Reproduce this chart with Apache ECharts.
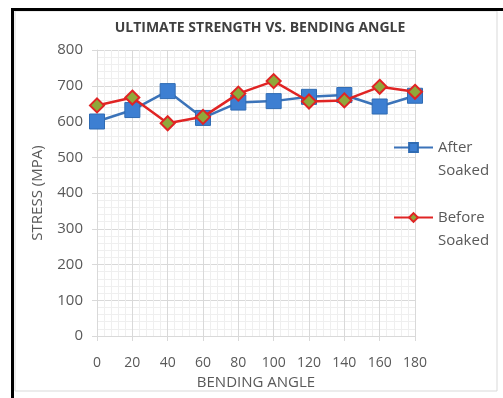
<!DOCTYPE html>
<html>
<head>
<meta charset="utf-8">
<style>
  html, body { margin: 0; padding: 0; background: #ffffff; }
  #chart { width: 503px; height: 398px; }
</style>
<script src="https://cdn.jsdelivr.net/npm/echarts@6/dist/echarts.min.js"></script>
</head>
<body>
<div id="chart"></div>
<script>
// Bending angle (degrees) for each test
const angles = [0, 20, 40, 60, 80, 100, 120, 140, 160, 180];
// Ultimate stress (MPa)
const afterSoaked = [600, 632, 685, 610, 653, 657, 669, 674, 642, 672];
const beforeSoaked = [645, 667, 595, 613, 678, 713, 656, 659, 697, 683];
const seriesNames = ['After Soaked', 'Before Soaked'];

const FONT = '"Open Sans", "Liberation Sans", sans-serif';
const TEXT_GRAY = '#595959';

const pairs = (xs, ys) => xs.map((x, i) => [x, ys[i]]);

const chart = echarts.init(document.getElementById('chart'), null, { renderer: 'canvas' });

chart.setOption({
  backgroundColor: '#ffffff',
  animation: false,
  title: {
    text: 'ULTIMATE STRENGTH VS. BENDING ANGLE',
    left: 260,
    textAlign: 'center',
    top: 21,
    padding: 0,
    textStyle: { fontFamily: FONT, fontSize: 14, fontWeight: 'bold', color: '#404040' }
  },
  graphic: [
    // frame around the chart
    { type: 'rect', shape: { x: 15, y: 11, width: 482, height: 380 }, style: { fill: 'none', stroke: '#d9d9d9', lineWidth: 1 }, silent: true },
    { type: 'line', shape: { x1: 12.5, y1: 8, x2: 12.5, y2: 398 }, style: { stroke: '#000000', lineWidth: 3 }, silent: true },
    { type: 'line', shape: { x1: 11, y1: 9.5, x2: 503, y2: 9.5 }, style: { stroke: '#000000', lineWidth: 3 }, silent: true }
  ],
  legend: {
    orient: 'vertical',
    left: 393,
    top: 113,
    padding: 0,
    itemWidth: 39,
    itemHeight: 11,
    itemGap: 1,
    data: seriesNames,
    formatter: name => ' \n' + name.replace(' ', '\n'),
    textStyle: { fontFamily: FONT, fontSize: 15, color: TEXT_GRAY, lineHeight: 23 }
  },
  grid: { left: 97, right: 88, top: 50, bottom: 62, containLabel: false },
  xAxis: {
    type: 'value',
    min: 0,
    max: 180,
    interval: 20,
    name: 'BENDING ANGLE',
    nameLocation: 'middle',
    nameGap: 39,
    nameTextStyle: { fontFamily: FONT, fontSize: 15, color: TEXT_GRAY },
    axisLine: { show: true, onZero: false, lineStyle: { color: '#d9d9d9', width: 1 } },
    axisTick: { show: true, length: 5, inside: false, lineStyle: { color: '#d9d9d9' } },
    axisLabel: { margin: 20, fontFamily: FONT, fontSize: 14, color: TEXT_GRAY },
    splitLine: { show: true, lineStyle: { color: '#d9d9d9', width: 1 } },
    minorTick: { show: false, splitNumber: 5 },
    minorSplitLine: { show: true, lineStyle: { color: '#efefef', width: 1 } }
  },
  yAxis: {
    type: 'value',
    min: 0,
    max: 800,
    interval: 100,
    name: 'STRESS (MPA)',
    nameLocation: 'middle',
    nameGap: 52,
    nameTextStyle: { fontFamily: FONT, fontSize: 15, color: TEXT_GRAY },
    axisLine: { show: true, lineStyle: { color: '#d9d9d9', width: 1 } },
    axisTick: { show: true, length: 5, inside: false, lineStyle: { color: '#d9d9d9' } },
    axisLabel: { margin: 14, fontFamily: FONT, fontSize: 15, color: TEXT_GRAY },
    splitLine: { show: true, lineStyle: { color: '#d9d9d9', width: 1 } },
    minorTick: { show: false, splitNumber: 5 },
    minorSplitLine: { show: true, lineStyle: { color: '#efefef', width: 1 } }
  },
  series: [
    {
      name: seriesNames[0],
      type: 'line',
      data: pairs(angles, afterSoaked),
      symbol: 'rect',
      symbolSize: 15,
      lineStyle: { color: '#3b73b9', width: 2.5 },
      itemStyle: { color: '#3d7fd2', borderColor: '#2f6bb3', borderWidth: 1 },
      z: 2
    },
    {
      name: seriesNames[1],
      type: 'line',
      data: pairs(angles, beforeSoaked),
      symbol: 'diamond',
      symbolSize: 14,
      lineStyle: { color: '#e02424', width: 2.5 },
      itemStyle: { color: '#8fa83a', borderColor: '#e02424', borderWidth: 2 },
      z: 3
    }
  ]
});
</script>
</body>
</html>
